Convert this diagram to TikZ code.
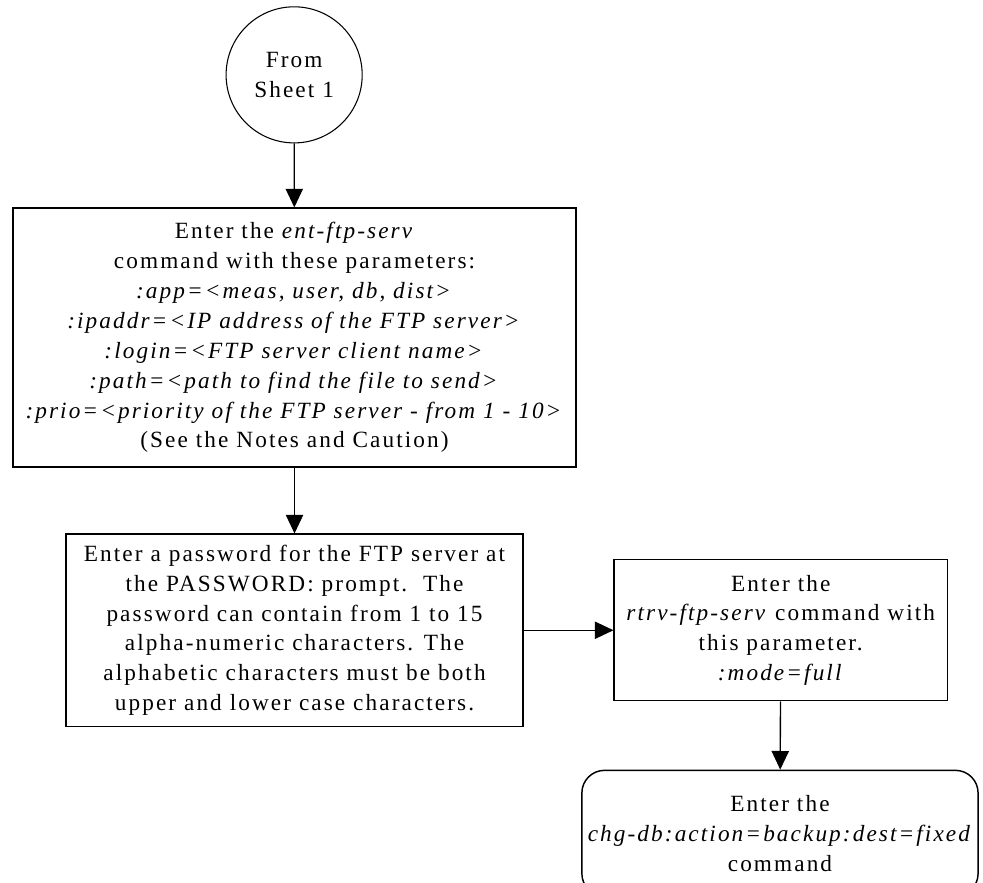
\documentclass[tikz,border=0pt]{standalone}
\usepackage{fontspec}
\setmainfont{Liberation Serif}[LetterSpace=9]
\usetikzlibrary{shapes,arrows.meta,positioning,calc}

\begin{document}
\begin{tikzpicture}[
    flowtext/.style={font=\fontsize{17.5}{22.5}\selectfont, align=center, inner sep=0pt},
    cmdbox/.style={draw, line width=1.1pt, flowtext},
    connector/.style={line width=1pt, -{Triangle[length=14pt,width=13pt]}}
  ]
    \useasboundingbox (0,0) rectangle (26.0,-23.33);

    % off-page connector
    \node[circle, draw, line width=0.8pt, minimum size=3.6cm, flowtext] (fromsheet) at (7.78,-1.98) {From\\Sheet 1};

    \node[cmdbox, minimum width=14.89cm, minimum height=6.85cm] (entserv) at (7.79,-8.93)
        {Enter the \textit{ent-ftp-serv}\\
         command with these parameters:\\
         \textit{:app=<meas, user, db, dist>}\\
         \textit{:ipaddr=<IP address of the FTP server>}\\
         \textit{:login=<FTP server client name>}\\
         \textit{:path=<path to find the file to send>}\\
         \textit{:prio=<priority of the FTP server - from 1 - 10>}\\
         (See the Notes and Caution)};
    \node[cmdbox, minimum width=12.09cm, minimum height=5.08cm] (passwd) at (7.79,-16.67)
        {Enter a password for the FTP server at\\
         the PASSWORD: prompt.\ \ The\\
         password can contain from 1 to 15\\
         alpha-numeric characters. The\\
         alphabetic characters must be both\\
         upper and lower case characters.};
    \node[cmdbox, minimum width=8.81cm, minimum height=3.73cm] (rtrvserv) at (20.65,-16.67)
        {Enter the\\
         \textit{rtrv-ftp-serv} command with\\
         this parameter.\\
         \textit{:mode=full}};
    \node[cmdbox, rounded corners=0.6cm, minimum width=10.48cm, minimum height=3.33cm] (chgdb) at (20.63,-22.04)
        {Enter the\\
         \textit{chg-db:action=backup:dest=fixed}\\
         command};

    \draw[connector] (fromsheet) -- (entserv);
    \draw[connector] (entserv) -- (passwd);
    \draw[connector] (passwd) -- (rtrvserv);
    \draw[connector] (rtrvserv) -- (chgdb);
\end{tikzpicture}
\end{document}
